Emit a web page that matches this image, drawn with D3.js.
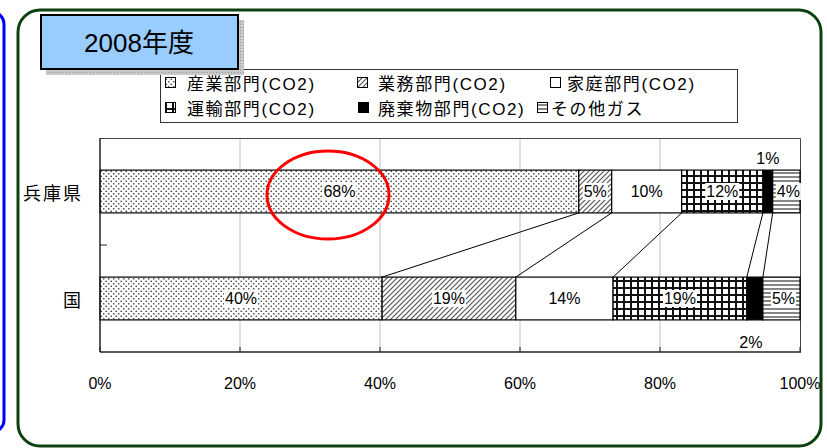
<!DOCTYPE html>
<html>
<head>
<meta charset="utf-8">
<script src="https://cdn.jsdelivr.net/npm/d3@7"></script>
<style>
  body { margin: 0; background: #fff; }
</style>
</head>
<body>
<svg id="chart" width="827" height="448"></svg>
<script>
// data
const categories = ["兵庫県", "国"];
const sectors = ["産業部門(CO2)", "業務部門(CO2)", "家庭部門(CO2)", "運輸部門(CO2)", "廃棄物部門(CO2)", "その他ガス"];
const hyogo = [68.4, 4.7, 10.0, 11.6, 1.4, 3.9];
const kuni = [40.3, 19.1, 13.9, 19.1, 2.3, 5.3];
const xTicks = [0, 20, 40, 60, 80, 100];
const title = "2008年度";

const width = 827, height = 448;
const svg = d3.select("#chart")
  .attr("font-family", "'Liberation Sans', Arial, 'Noto Sans CJK JP', sans-serif");

// patterns
const defs = svg.append("defs");
let p = defs.append("pattern").attr("id", "dots").attr("width", 5).attr("height", 5).attr("patternUnits", "userSpaceOnUse");
p.append("rect").attr("width", 5).attr("height", 5).attr("fill", "#fff");
p.append("circle").attr("cx", 1.25).attr("cy", 1.25).attr("r", 0.85).attr("fill", "#444");
p.append("circle").attr("cx", 3.75).attr("cy", 3.75).attr("r", 0.85).attr("fill", "#444");

p = defs.append("pattern").attr("id", "diag").attr("width", 5).attr("height", 5).attr("patternUnits", "userSpaceOnUse");
p.append("rect").attr("width", 5).attr("height", 5).attr("fill", "#fff");
p.append("path").attr("d", "M-1,6 L6,-1 M-1,1 L1,-1 M4,6 L6,4").attr("stroke", "#555").attr("stroke-width", 1.2);

p = defs.append("pattern").attr("id", "grid").attr("width", 7).attr("height", 7).attr("patternUnits", "userSpaceOnUse");
p.append("rect").attr("width", 7).attr("height", 7).attr("fill", "#fff");
p.append("path").attr("d", "M0,1 H7 M1,0 V7").attr("stroke", "#111").attr("stroke-width", 2);

p = defs.append("pattern").attr("id", "hlines").attr("width", 4).attr("height", 4).attr("patternUnits", "userSpaceOnUse");
p.append("rect").attr("width", 4).attr("height", 4).attr("fill", "#fff");
p.append("path").attr("d", "M0,1 H4").attr("stroke", "#444").attr("stroke-width", 1.3);

p = defs.append("pattern").attr("id", "shade").attr("width", 3).attr("height", 3).attr("patternUnits", "userSpaceOnUse");
p.append("rect").attr("width", 3).attr("height", 3).attr("fill", "#c8c8c8");
p.append("rect").attr("width", 1).attr("height", 1).attr("fill", "#999");

const fills = ["url(#dots)", "url(#diag)", "#fff", "url(#grid)", "#000", "url(#hlines)"];

// outer frames
svg.append("rect").attr("x", -30).attr("y", 12).attr("width", 34).attr("height", 420)
  .attr("rx", 12).attr("fill", "none").attr("stroke", "#0000ff").attr("stroke-width", 3);
svg.append("rect").attr("x", 18).attr("y", 10).attr("width", 803).attr("height", 436)
  .attr("rx", 22).attr("fill", "#fff").attr("stroke", "#0f400f").attr("stroke-width", 3);

// scales
const x = d3.scaleLinear().domain([0, 100]).range([100, 800]);
const y = d3.scaleBand().domain(categories).range([138, 352]).paddingInner(0.6).paddingOuter(0.3);

// grid lines
svg.append("g").selectAll("line").data(xTicks.slice(1, -1)).join("line")
  .attr("x1", d => x(d)).attr("x2", d => x(d)).attr("y1", 138).attr("y2", 352)
  .attr("stroke", "#c0c0c0").attr("stroke-width", 1);

// plot frame
svg.append("path").attr("d", `M100,138.5 H800.5 V352`).attr("fill", "none").attr("stroke", "#444").attr("stroke-width", 1);

// stacked data
const rows = [hyogo, kuni].map((vals, i) => {
  let acc = 0;
  return vals.map((v, j) => {
    const s = { cat: categories[i], j, v, x0: acc, x1: acc + v };
    acc += v;
    return s;
  });
});

// connecting series lines
const conn = d3.range(sectors.length - 1).map(j => ({ a: rows[0][j].x1, b: rows[1][j].x1 }));
svg.append("g").selectAll("line").data(conn).join("line")
  .attr("x1", d => x(d.a)).attr("y1", y(categories[0]) + y.bandwidth())
  .attr("x2", d => x(d.b)).attr("y2", y(categories[1]))
  .attr("stroke", "#000").attr("stroke-width", 1);

// bars
const segs = rows.flat();
svg.append("g").selectAll("rect").data(segs).join("rect")
  .attr("x", d => x(d.x0)).attr("y", d => y(d.cat))
  .attr("width", d => x(d.x1) - x(d.x0)).attr("height", y.bandwidth())
  .attr("fill", d => fills[d.j]).attr("stroke", "#000").attr("stroke-width", 1.2);

// data labels
const lab = svg.append("g").attr("font-size", 16).attr("fill", "#000");
segs.forEach(d => {
  const t = Math.round(d.v) + "%";
  let cx = x((d.x0 + d.x1) / 2), cy = y(d.cat) + y.bandwidth() / 2;
  if (d.j === 4) {
    cy = d.cat === categories[0] ? y(d.cat) - 12 : y(d.cat) + y.bandwidth() + 23;
    cx -= d.cat === categories[0] ? 0 : 4;
  }
  if (d.j === 5) cx += 2;
  const g = lab.append("g");
  const tx = g.append("text").attr("x", cx).attr("y", cy).attr("text-anchor", "middle")
    .attr("dominant-baseline", "central").text(t);
  if (d.j !== 2 && d.j !== 4) {
    const b = tx.node().getBBox();
    g.insert("rect", "text").attr("x", b.x - 1).attr("y", b.y)
      .attr("width", b.width + 2).attr("height", b.height).attr("fill", "#fff");
  }
});

// axes
svg.append("line").attr("x1", 100).attr("x2", 100).attr("y1", 138).attr("y2", 352).attr("stroke", "#222").attr("stroke-width", 1.5);
svg.append("line").attr("x1", 100).attr("x2", 801).attr("y1", 352).attr("y2", 352).attr("stroke", "#222").attr("stroke-width", 1.5);
svg.append("line").attr("x1", 100).attr("x2", 107).attr("y1", 245).attr("y2", 245).attr("stroke", "#222");
svg.append("g").selectAll("line").data(xTicks).join("line")
  .attr("x1", d => x(d)).attr("x2", d => x(d)).attr("y1", 347).attr("y2", 352).attr("stroke", "#222");

svg.append("g").selectAll("text").data(xTicks).join("text")
  .attr("x", d => x(d)).attr("y", 389).attr("text-anchor", "middle").attr("font-size", 16)
  .text(d => d + "%");

svg.append("g").selectAll("text").data(categories).join("text")
  .attr("x", 83).attr("y", d => y(d) + y.bandwidth() / 2 + 8).attr("text-anchor", "end")
  .attr("font-size", 18).attr("letter-spacing", 2).text(d => d);

// red circle
svg.append("ellipse").attr("cx", 328).attr("cy", 195).attr("rx", 61).attr("ry", 44)
  .attr("fill", "none").attr("stroke", "#ff0000").attr("stroke-width", 3);

// legend (symbol x, text x, row y)
svg.append("rect").attr("x", 160.5).attr("y", 69.5).attr("width", 577).attr("height", 53)
  .attr("fill", "#fff").attr("stroke", "#333").attr("stroke-width", 1);
const legPos = [[165, 187, 83], [357, 378, 83], [550, 567, 83], [165, 187, 108], [358, 378, 108], [537, 551, 108]];
const leg = svg.append("g").selectAll("g").data(sectors).join("g")
  .attr("transform", (d, i) => `translate(${legPos[i][0]},${legPos[i][2]})`);
leg.append("rect").attr("x", 0.5).attr("y", -5.5).attr("width", 10).attr("height", 10)
  .attr("fill", (d, i) => fills[i]).attr("stroke", "#000").attr("stroke-width", 1);
leg.append("text").attr("x", (d, i) => legPos[i][1] - legPos[i][0]).attr("y", 6.5).attr("font-size", 17)
  .attr("letter-spacing", 1.6).text(d => d);

// title box
svg.append("rect").attr("x", 46).attr("y", 20).attr("width", 198).attr("height", 55).attr("fill", "url(#shade)");
svg.append("rect").attr("x", 41).attr("y", 15).attr("width", 197).attr("height", 54)
  .attr("fill", "#99ccff").attr("stroke", "#000").attr("stroke-width", 2);
svg.append("text").attr("x", 139).attr("y", 52).attr("text-anchor", "middle").attr("font-size", 26)
  .text(title);
</script>
</body>
</html>
